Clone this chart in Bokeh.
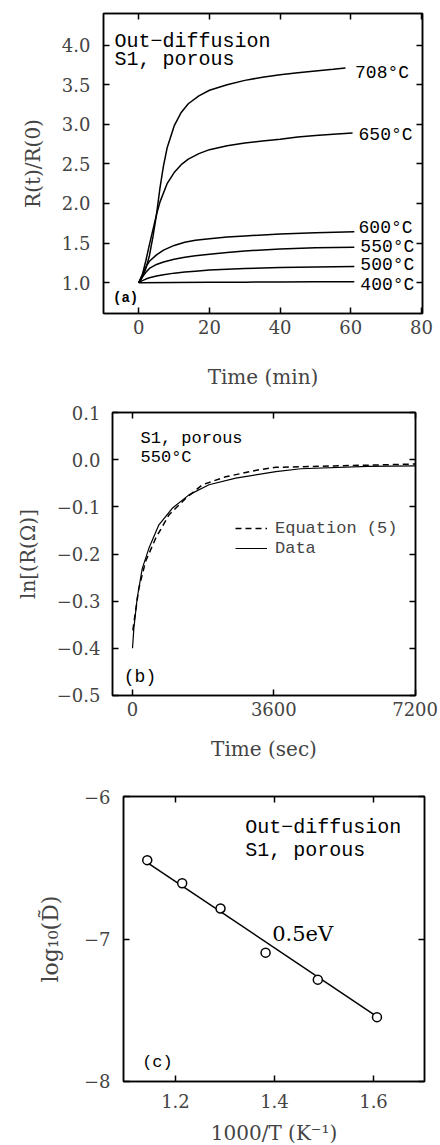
from bokeh.plotting import figure
from bokeh.models import Range1d, LinearAxis, FixedTicker, CustomJSTickFormatter
from bokeh.embed import file_html
from bokeh.resources import INLINE
from bokeh.core.properties import value

# ---------------- data: panel (a) ----------------
t_708 = [0, 1, 2, 3, 4, 5, 6, 7, 8, 10, 12, 14, 17, 20, 25, 30, 35, 40, 45, 50, 55, 58.5]
r_708 = [1.0, 1.07, 1.18, 1.34, 1.58, 1.86, 2.2, 2.48, 2.7, 2.98, 3.15, 3.26, 3.36, 3.43, 3.5, 3.555, 3.595, 3.625, 3.65, 3.675, 3.695, 3.71]
t_650 = [0, 1, 2, 3, 4, 5, 6, 8, 10, 12, 14, 17, 20, 25, 30, 35, 40, 45, 50, 55, 60.5]
r_650 = [1.0, 1.1, 1.28, 1.48, 1.67, 1.86, 2.02, 2.25, 2.39, 2.49, 2.56, 2.63, 2.68, 2.73, 2.765, 2.79, 2.81, 2.84, 2.86, 2.875, 2.89]
t_low = [0, 1, 2, 3, 5, 7, 10, 13, 16, 20, 25, 30, 40, 50, 61]
r_600 = [1.0, 1.1, 1.2, 1.27, 1.35, 1.41, 1.47, 1.51, 1.535, 1.555, 1.575, 1.59, 1.615, 1.63, 1.643]
r_550 = [1.0, 1.07, 1.13, 1.18, 1.23, 1.26, 1.295, 1.32, 1.34, 1.36, 1.38, 1.4, 1.425, 1.44, 1.448]
r_500 = [1.0, 1.025, 1.045, 1.062, 1.085, 1.1, 1.12, 1.135, 1.145, 1.158, 1.17, 1.178, 1.19, 1.197, 1.203]
t_400 = [0, 10, 20, 30, 40, 50, 61]
r_400 = [1.0, 1.002, 1.004, 1.006, 1.008, 1.01, 1.012]
temp_labels = ["708°C", "650°C", "600°C", "550°C", "500°C", "400°C"]

# ---------------- data: panel (b) ----------------
t_data = [0, 34, 119, 247, 417, 672, 1013, 1438, 1948, 2630, 3651, 4289, 5992, 7200]
ln_data = [-0.400, -0.358, -0.294, -0.231, -0.188, -0.138, -0.103, -0.0745, -0.053, -0.039, -0.025, -0.019, -0.014, -0.013]
t_eq = [8, 161, 332, 587, 927, 1353, 1779, 2374, 3225, 3651, 5128, 7200]
ln_eq = [-0.362, -0.273, -0.216, -0.167, -0.117, -0.082, -0.053, -0.036, -0.021, -0.016, -0.013, -0.009]

# ---------------- data: panel (c) ----------------
inv_T = [1.143, 1.2135, 1.291, 1.382, 1.4875, 1.607]
log_D = [-6.445, -6.607, -6.785, -7.096, -7.286, -7.550]
fit_x = [1.143, 1.607]
fit_y = [-6.462, -7.546]

# tick values
a_xticks = [0, 20, 40, 60, 80]
a_yticks = [1.0, 1.5, 2.0, 2.5, 3.0, 3.5, 4.0]
b_xticks = [0, 3600, 7200]
b_yticks = [-0.5, -0.4, -0.3, -0.2, -0.1, 0.0, 0.1]
c_xticks = [1.2, 1.4, 1.6]
c_yticks = [-8, -7, -6]

SERIF = "DejaVu Serif"
MONO = "Liberation Mono"
MINUS = "\u2212"


def fmt(decimals):
    return CustomJSTickFormatter(code="return tick.toFixed(%d).replace('-', '%s');" % (decimals, MINUS))


def base_axis(ax, ticks):
    ax.ticker = FixedTicker(ticks=ticks)
    ax.major_tick_in = 6
    ax.major_tick_out = 0
    ax.major_tick_line_width = 1.5
    ax.major_tick_line_color = "black"
    ax.minor_tick_line_color = None
    ax.axis_line_color = "black"
    ax.axis_line_width = 1.5


def make_fig(xr, yr, fw, fh, left, top, right, bottom, xticks, yticks, xdec, ydec,
             xlabel, ylabel, x_std, y_std, xl_std, yl_std, ylabel_size="20px"):
    p = figure(x_range=Range1d(*xr), y_range=Range1d(*yr), frame_width=fw, frame_height=fh,
               min_border_left=left, min_border_top=top, min_border_right=right,
               min_border_bottom=bottom, toolbar_location=None, output_backend="svg",
               background_fill_color="white", border_fill_color="white")
    p.grid.grid_line_color = None
    p.outline_line_color = "black"
    p.outline_line_width = 1.5
    for ax, ticks, dec, lab, std, lstd, lsize in ((p.xaxis[0], xticks, xdec, xlabel, x_std, xl_std, "20px"),
                                                   (p.yaxis[0], yticks, ydec, ylabel, y_std, yl_std, ylabel_size)):
        base_axis(ax, ticks)
        ax.formatter = fmt(dec)
        ax.major_label_text_font = SERIF
        ax.major_label_text_font_size = "18px"
        ax.major_label_standoff = std
        ax.axis_label = lab
        ax.axis_label_text_font = SERIF
        ax.axis_label_text_font_size = lsize
        ax.axis_label_text_font_style = "normal"
        ax.axis_label_standoff = lstd
    # inward ticks on the opposite sides
    rax = LinearAxis()
    base_axis(rax, yticks)
    rax.formatter = CustomJSTickFormatter(code="return '';")
    rax.major_label_text_font_size = "0px"
    rax.major_label_standoff = 0
    p.add_layout(rax, "right")
    tax = LinearAxis()
    base_axis(tax, xticks)
    tax.formatter = CustomJSTickFormatter(code="return '';")
    tax.major_label_text_font_size = "0px"
    tax.major_label_standoff = 0
    p.add_layout(tax, "above")
    return p


# ---------------- panel (a) ----------------
pa = make_fig((-10, 80.3), (0.61, 4.4), 319, 300, 103, 13, 16, 81,
              a_xticks, a_yticks, 0, 1, "Time (min)", "R(t)/R(0)", 6, 13, 28, 14)
for tx, ry in ((t_708, r_708), (t_650, r_650), (t_low, r_600), (t_low, r_550), (t_low, r_500), (t_400, r_400)):
    pa.line(tx, ry, line_color="black", line_width=1.5)
pa.text(x=[61.2, 62.2, 62.2, 62.7, 62.7, 62.7], y=[3.65, 2.87, 1.69, 1.45, 1.22, 0.975], text=temp_labels,
        text_font=value(MONO), text_font_size="18px", text_baseline="middle", text_align="left", text_color="black")
pa.text(x=[-6.86, -6.86], y=[4.046, 3.82], text=["Out\u2212diffusion", "S1, porous"],
        text_font=value(MONO), text_font_size="20px", text_baseline="alphabetic", text_align="left", text_color="black")
pa.text(x=[-7.3], y=[0.80], text=["(a)"], text_font=value(MONO), text_font_size="14px",
        text_font_style="bold", text_baseline="alphabetic", text_align="left", text_color="black")

# ---------------- panel (b) ----------------
pb = make_fig((-510, 7210), (-0.5005, 0.1005), 303, 283, 112, 18, 24, 70,
              b_xticks, b_yticks, 0, 1, "Time (sec)", "ln[(R(\u03a9)]", 6, 12, 18, 14)
pb.line(t_eq, ln_eq, line_color="black", line_width=1.5, line_dash="6 4", legend_label="Equation (5)")
pb.line(t_data, ln_data, line_color="black", line_width=1.2, legend_label="Data")
lg = pb.legend[0]
lg.location = (123, 137)
lg.border_line_color = None
lg.background_fill_alpha = 0
lg.padding = 0
lg.margin = 0
lg.spacing = 0
lg.glyph_width = 32
lg.glyph_height = 20
lg.label_height = 20
lg.label_standoff = 8
lg.label_text_font = MONO
lg.label_text_font_size = "17px"
pb.text(x=[204, 204], y=[0.046, 0.005], text=["S1, porous", "550°C"],
        text_font=value(MONO), text_font_size="17px", text_baseline="alphabetic", text_align="left", text_color="black")
pb.text(x=[-222], y=[-0.461], text=["(b)"], text_font=value(MONO), text_font_size="18px",
        text_baseline="alphabetic", text_align="left", text_color="black")

# ---------------- panel (c) ----------------
pc = make_fig((1.095, 1.703), (-8.003, -5.997), 301, 285, 123, 31, 8, 56,
              c_xticks, c_yticks, 1, 0, "1000/T (K\u207b\u00b9)", "log\u2081\u2080(D\u0303)", 12, 13, 10, 18,
              ylabel_size="22px")
pc.line(fit_x, fit_y, line_color="black", line_width=1.5)
pc.scatter(inv_T, log_D, marker="circle", size=9, fill_color="white", line_color="black", line_width=1.5)
pc.text(x=[1.341, 1.341], y=[-6.216, -6.375], text=["Out\u2212diffusion", "S1, porous"],
        text_font=value(MONO), text_font_size="20px", text_baseline="alphabetic", text_align="left", text_color="black")
pc.text(x=[1.3953], y=[-6.965], text=["0.5eV"], text_font=value(SERIF), text_font_size="21px",
        text_baseline="alphabetic", text_align="left", text_color="black")
pc.text(x=[1.1327], y=[-7.867], text=["(c)"], text_font=value(MONO), text_font_size="17px",
        text_baseline="alphabetic", text_align="left", text_color="black")

open("out.html", "w").write(file_html([pa, pb, pc], INLINE))
